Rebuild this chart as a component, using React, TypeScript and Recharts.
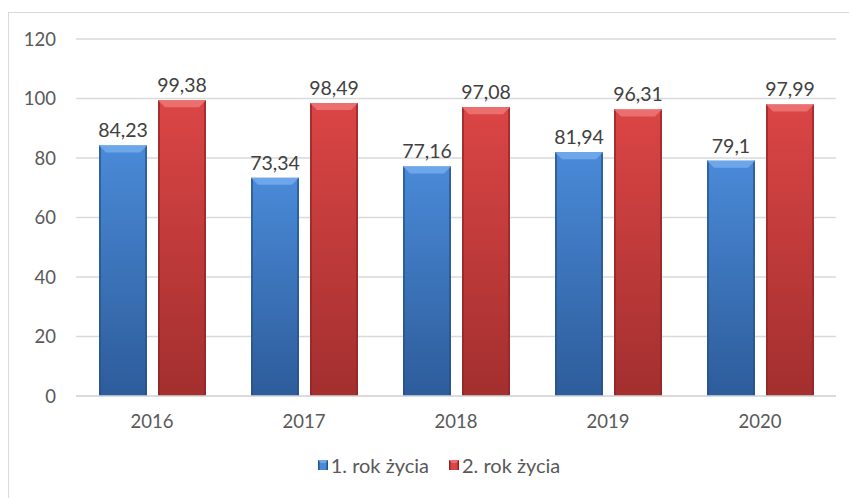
import React from 'react';
import { BarChart, Bar, XAxis, YAxis, CartesianGrid, Legend, LabelList } from 'recharts';

const years = ['2016', '2017', '2018', '2019', '2020'];
const firstYear = [84.23, 73.34, 77.16, 81.94, 79.1];
const secondYear = [99.38, 98.49, 97.08, 96.31, 97.99];
const yTicks = [0, 20, 40, 60, 80, 100, 120];
const seriesNames = ['1. rok życia', '2. rok życia'];

const data = years.map((year, i) => ({
  year,
  first: firstYear[i],
  second: secondYear[i],
}));

const FONT = 'Lato, "Open Sans", sans-serif';

const palettes = {
  blue: { id: 'blue', top: '#4a8ad8', bottom: '#2d5c9a', bevel: '#6ea6ea', edge: '#26528c' },
  red: { id: 'red', top: '#db4545', bottom: '#a32f2f', bevel: '#ec6f6f', edge: '#8f2727' },
};

const makeBar = (p: typeof palettes.blue) => (props: any) => {
  const { x, y, width, height } = props;
  if (!height || height <= 0) return null;
  const b = Math.min(7, height / 2);
  return (
    <g>
      <rect x={x} y={y} width={width} height={height} fill={`url(#grad-${p.id})`} />
      <rect x={x} y={y} width={2} height={height} fill={p.edge} opacity={0.7} />
      <rect x={x + width - 2} y={y} width={2} height={height} fill={p.edge} opacity={0.7} />
      <polygon
        points={`${x},${y} ${x + width},${y} ${x + width - b},${y + b} ${x + b},${y + b}`}
        fill={p.bevel}
      />
    </g>
  );
};

const LegendContent = () => (
  <div style={{ display: 'flex', justifyContent: 'center', gap: 20, fontFamily: FONT, fontSize: 20, color: '#595959' }}>
    {[palettes.blue, palettes.red].map((p, i) => (
      <div key={p.id} style={{ display: 'flex', alignItems: 'center', gap: 3 }}>
        <svg width={10} height={10}>
          <rect x={0} y={0} width={10} height={10} fill={p.top} />
          <rect x={0} y={0} width={1.5} height={10} fill={p.edge} />
          <rect x={8.5} y={0} width={1.5} height={10} fill={p.edge} />
          <polygon points="0,0 10,0 7,3 3,3" fill={p.bevel} />
        </svg>
        <span>{seriesNames[i]}</span>
      </div>
    ))}
  </div>
);

export default function App() {
  return (
    <div style={{ position: 'fixed', top: 0, left: 0, width: 849, height: 498, background: '#fff', overflow: 'hidden' }}>
      <div
        style={{
          position: 'absolute',
          left: 8,
          top: 12,
          width: 900,
          height: 600,
          borderLeft: '1.5px solid #d9d9d9',
          borderTop: '1.5px solid #d9d9d9',
        }}
      />
      <BarChart
        width={849}
        height={498}
        data={data}
        margin={{ top: 39, right: 13, left: 0, bottom: 70 }}
        barCategoryGap={23}
        barGap={11}
      >
        <defs>
          {[palettes.blue, palettes.red].map((p) => (
            <linearGradient key={p.id} id={`grad-${p.id}`} x1="0" y1="0" x2="0" y2="1">
              <stop offset="0%" stopColor={p.top} />
              <stop offset="100%" stopColor={p.bottom} />
            </linearGradient>
          ))}
        </defs>
        <CartesianGrid vertical={false} stroke="#d9d9d9" strokeWidth={1.5} />
        <XAxis
          dataKey="year"
          axisLine={{ stroke: '#d9d9d9', strokeWidth: 1.5 }}
          tickLine={false}
          tickMargin={13}
          height={32}
          tick={{ fill: '#595959', fontSize: 18.5, fontFamily: FONT }}
        />
        <YAxis
          width={76}
          domain={[0, 120]}
          ticks={yTicks}
          axisLine={false}
          tickLine={false}
          tickMargin={14}
          tick={{ fill: '#595959', fontSize: 18.5, fontFamily: FONT }}
        />
        <Legend
          verticalAlign="middle"
          layout="horizontal"
          content={<LegendContent />}
          wrapperStyle={{ top: 453, left: 0, width: 878 }}
        />
        <Bar dataKey="first" name={seriesNames[0]} shape={makeBar(palettes.blue)} isAnimationActive={false}>
          <LabelList
            dataKey="first"
            position="top"
            offset={8}
            formatter={(v: any) => String(v).replace('.', ',')}
            style={{ fill: '#404040', fontSize: 19.5, fontFamily: FONT }}
          />
        </Bar>
        <Bar dataKey="second" name={seriesNames[1]} shape={makeBar(palettes.red)} isAnimationActive={false}>
          <LabelList
            dataKey="second"
            position="top"
            offset={8}
            formatter={(v: any) => String(v).replace('.', ',')}
            style={{ fill: '#404040', fontSize: 19.5, fontFamily: FONT }}
          />
        </Bar>
      </BarChart>
    </div>
  );
}
